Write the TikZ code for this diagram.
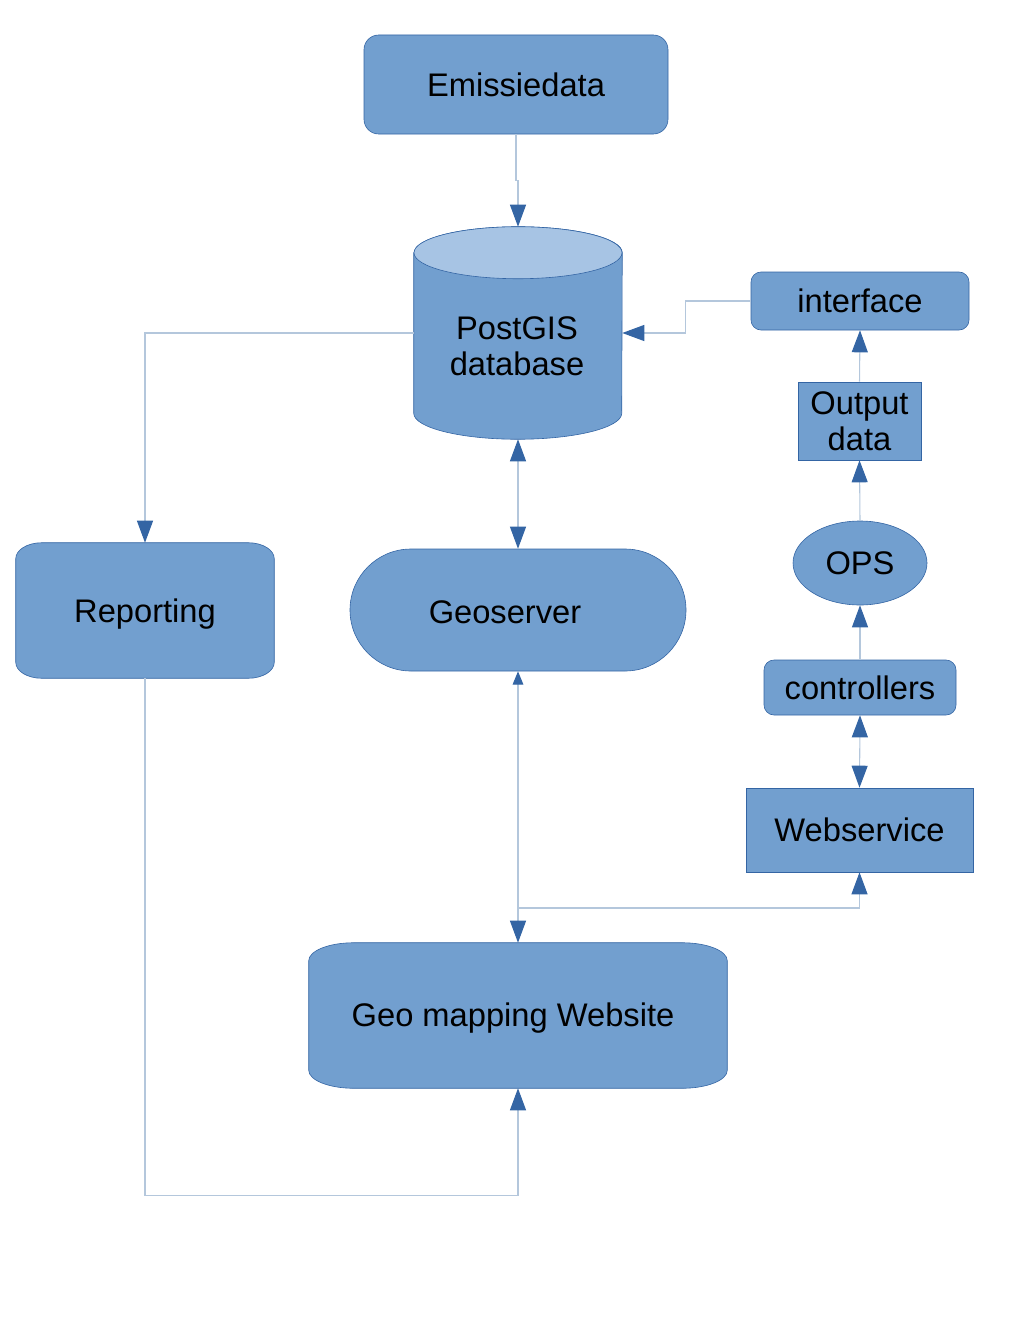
\documentclass[tikz,border=0pt]{standalone}
\usepackage{fontspec}
\setmainfont{Liberation Sans}
\usetikzlibrary{arrows.meta,shapes.geometric,shapes.misc,calc,backgrounds}
\definecolor{boxfill}{HTML}{729FCF}
\definecolor{boxline}{HTML}{3465A4}
\definecolor{topfill}{HTML}{A7C4E4}
\definecolor{linec}{HTML}{B4C7DC}
\definecolor{tipc}{HTML}{3465A4}
% #1 node, #2 rx px, #3 ry px, #4 rx pt, #5 ry pt
\newcommand\ellbox[5]{%
  \path[blk] ($(#1.north west)+(#2,0)$) -- ($(#1.north east)+(-#2,0)$)
    arc[start angle=90,end angle=0,x radius=#4,y radius=#5]
    -- ($(#1.south east)+(0,-#3)$)
    arc[start angle=0,end angle=-90,x radius=#4,y radius=#5]
    -- ($(#1.south west)+(#2,0)$)
    arc[start angle=270,end angle=180,x radius=#4,y radius=#5]
    -- ($(#1.north west)+(0,#3)$)
    arc[start angle=180,end angle=90,x radius=#4,y radius=#5] -- cycle;}
\begin{document}
\begin{tikzpicture}[x=0.75pt,y=-0.75pt,
  every node/.style={font=\fontsize{24.5}{27}\selectfont, text=black, inner sep=0pt, align=center},
  blk/.style={fill=boxfill, draw=boxline, line width=0.45pt},
  rbox/.style={blk, rectangle, rounded corners=7.5pt},
  sbox/.style={blk, rectangle},
  ghost/.style={rectangle, draw=none, fill=none},
  conn/.style={draw=linec, line width=0.8pt},
  bigtip/.tip={Triangle[width=12pt,length=16.5pt,color=tipc]},
  smalltip/.tip={Triangle[width=8pt,length=10pt,color=tipc]},
]
\useasboundingbox (0,0) rectangle (1020,1320);

\node[rbox, rounded corners=11pt, minimum width=228pt, minimum height=74.25pt] (emis) at (516,84.5) {Emissiedata};
\node[ghost, minimum width=156pt, minimum height=159pt] (db) at (518,333) {};
\node (dbt) at (517,346) {PostGIS\\database};
\node[rbox, minimum width=163.5pt, minimum height=43.5pt] (intf) at (860,301) {interface};
\node[sbox, minimum width=92.25pt, minimum height=58.5pt] (outp) at (859.5,421) {Output\\data};
\node[blk, ellipse, minimum width=100.5pt, minimum height=63pt] (ops) at (860,563) {OPS};
\node[rbox, minimum width=144pt, minimum height=41.25pt] (ctrl) at (860,687.5) {controllers};
\node[sbox, minimum width=170.25pt, minimum height=63pt] (web) at (859.5,830) {Webservice};
\node[ghost, minimum width=193.5pt, minimum height=101.25pt, text depth=0pt] (rep) at (145,610.5) {Reporting};
\node[blk, rounded rectangle, minimum width=252pt, minimum height=91.5pt] (geo) at (518,610) {};
\node (geot) at (505,612) {Geoserver};
\node[ghost, minimum width=313.5pt, minimum height=108.75pt] (gw) at (518,1015.5) {};
\node[text depth=0pt] (gwt) at (513,1015) {Geo mapping Website};

\begin{scope}[on background layer]
  \ellbox{rep}{26}{16}{19.5pt}{12pt}
  \ellbox{gw}{45}{18}{33.75pt}{13.5pt}
  \path[blk] ($(db.north west)+(0,26)$) -- ($(db.south west)+(0,-26)$)
    arc[start angle=180,end angle=360,x radius=78pt,y radius=19.5pt]
    -- ($(db.north east)+(0,26)$)
    arc[start angle=0,end angle=180,x radius=78pt,y radius=19.5pt] -- cycle;
  \path[blk, fill=topfill] ($(db.north)+(0,26)$) ellipse [x radius=78pt, y radius=19.5pt];
\end{scope}

\coordinate (jn) at (518,908);
\draw[conn,-bigtip] (emis.south) -- ++(0,46) -| (db.north);
\draw[conn,bigtip-bigtip] (db.south) -- (geo.north);
\draw[conn,-bigtip] (db.west) -| (rep.north);
\draw[conn,-bigtip] (intf.west) -- ++(-65,0) |- (db.east);
\draw[conn,-bigtip] (outp.north) -- (intf.south);
\draw[conn,-bigtip] (ops.north) -- (outp.south);
\draw[conn,-bigtip] (ctrl.north) -- (ops.south);
\draw[conn,bigtip-bigtip] (ctrl.south) -- (web.north);
\draw[conn,smalltip-bigtip] (geo.south) -- (gw.north);
\draw[conn,-bigtip] (jn) -| (web.south);
\draw[conn,-bigtip] (rep.south) -- ++(0,517) -| (gw.south);
\end{tikzpicture}
\end{document}
